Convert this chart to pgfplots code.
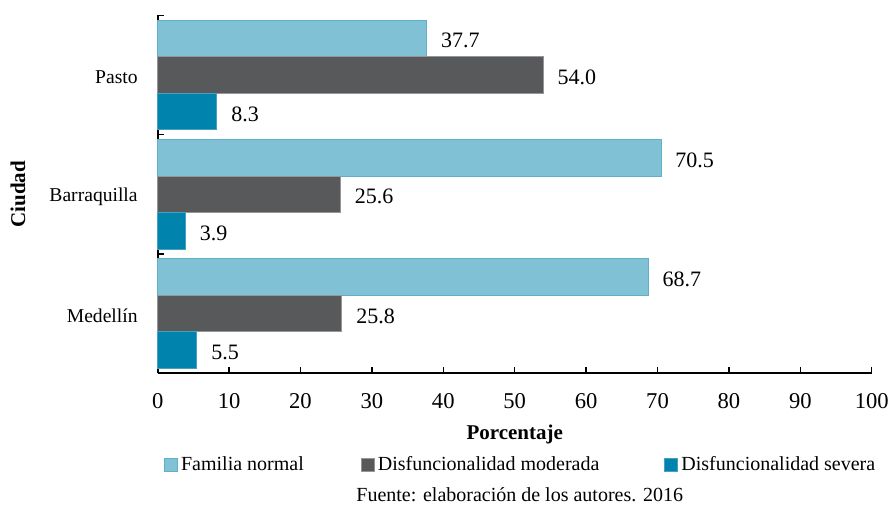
\documentclass[border=0pt]{standalone}
\usepackage{pgfplots}
\pgfplotsset{compat=1.18}
\usepackage{fontspec}
\setmainfont{Liberation Serif}

\definecolor{normalc}{RGB}{128,193,213}
\definecolor{normaledge}{RGB}{96,176,201}
\definecolor{moderc}{RGB}{88,89,91}
\definecolor{moderedge}{RGB}{150,150,152}
\definecolor{severc}{RGB}{0,131,173}
\definecolor{severedge}{RGB}{70,160,195}

\begin{document}
\begin{tikzpicture}
\begin{axis}[
  scale only axis,
  width=357pt, height=179pt,
  xbar, bar width=0.306,
  xmin=0, xmax=100,
  ymin=-0.5, ymax=2.5,
  axis x line=bottom, axis y line=left,
  axis line style={-, line width=0.9pt},
  tick align=inside,
  major tick length=3pt,
  tick style={black, line width=0.7pt},
  xtick={0,10,...,100},
  ytick={-0.5,0.5,1.5,2.5},
  yticklabels={},
  extra y ticks={0,1,2},
  extra y tick labels={Medellín,Barraquilla,Pasto},
  extra y tick style={tick style={draw=none},
    tick label style={font=\fontsize{9.8}{12}\selectfont, xshift=-6.5pt, yshift=-1pt}},
  x tick label style={font=\fontsize{11.3}{13}\selectfont, yshift=-6.5pt},
  /pgf/number format/assume math mode=true,
  xlabel={Porcentaje},
  xlabel style={at={(axis description cs:0.5,-0.172)}, anchor=center,
    font=\bfseries\fontsize{10.5}{12}\selectfont},
  ylabel={Ciudad},
  ylabel style={at={(axis description cs:-0.1957,0.5)}, anchor=center,
    font=\bfseries\fontsize{10.5}{12}\selectfont},
  nodes near coords,
  nodes near coords style={font=\fontsize{11}{13}\selectfont, anchor=west,
    xshift=3.6pt, yshift=-1.2pt,
    /pgf/number format/.cd, fixed, fixed zerofill, precision=1,
    assume math mode=true},
  clip=false,
  legend columns=3,
  legend style={draw=none, at={(axis description cs:0.0,-0.256)}, anchor=west,
    font=\fontsize{10}{12}\selectfont,
    nodes={inner xsep=1.5pt},
    /tikz/column 2/.style={column sep=27pt},
    /tikz/column 4/.style={column sep=31pt}},
  legend image code/.code={\fill[#1] (0pt,-3.25pt) rectangle (6.5pt,3.25pt);},
]
% Familia normal (top bar of each group)
\addplot[fill=normalc, draw=normaledge, line width=0.5pt, bar shift=0.306]
  coordinates {(68.7,0) (70.5,1) (37.7,2)};
% Disfuncionalidad moderada (middle bar)
\addplot[fill=moderc, draw=moderedge, line width=0.5pt, bar shift=0]
  coordinates {(25.8,0) (25.6,1) (54.0,2)};
% Disfuncionalidad severa (bottom bar)
\addplot[fill=severc, draw=severedge, line width=0.5pt, bar shift=-0.306]
  coordinates {(5.5,0) (3.9,1) (8.3,2)};
\legend{Familia normal, Disfuncionalidad moderada, Disfuncionalidad severa}
\node[font=\fontsize{10}{12}\selectfont, anchor=center]
  at ([xshift=2.5pt, yshift=-60.5pt]rel axis cs:0.5,0)
  {Fuente: elaboración de los autores. 2016};
\end{axis}
% fixed margins around the plot area
\pgfresetboundingbox
\path[use as bounding box]
  ([xshift=-78.85pt, yshift=-66.35pt]current axis.south west) rectangle
  ([xshift=8.65pt, yshift=7.65pt]current axis.north east);
\end{tikzpicture}
\end{document}
